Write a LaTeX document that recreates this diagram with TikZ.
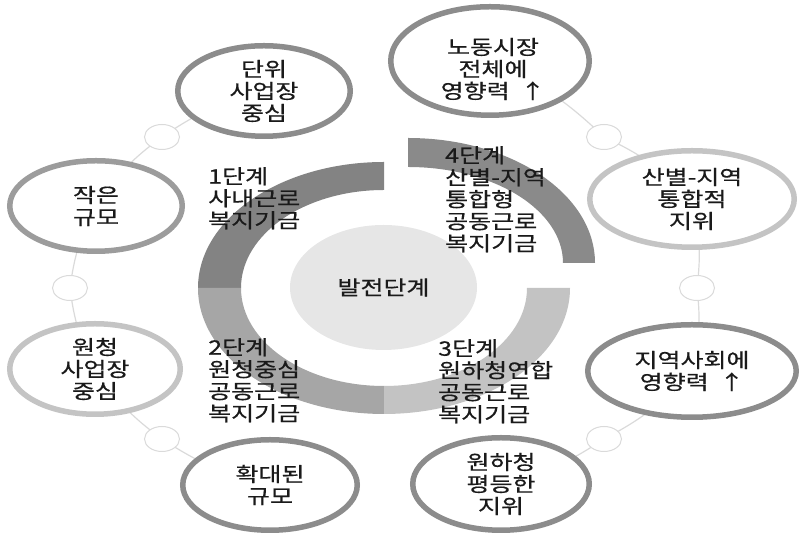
\documentclass[tikz,border=0pt]{standalone}
\usepackage{fontspec}
\setmainfont[FakeStretch=1.25,FakeBold=0.5]{Noto Sans CJK KR}
\usetikzlibrary{shapes.geometric,backgrounds}
\definecolor{seg1}{HTML}{838383}
\definecolor{seg2}{HTML}{A6A6A6}
\definecolor{seg3}{HTML}{C3C3C3}
\definecolor{seg4}{HTML}{8A8A8A}
\definecolor{cen}{HTML}{E6E6E6}
\definecolor{bdark}{HTML}{8C8C8C}
\definecolor{bmid}{HTML}{9C9C9C}
\definecolor{blight}{HTML}{C4C4C4}
\definecolor{linec}{HTML}{DADADA}
\definecolor{txt}{HTML}{1A1A1A}
\begin{document}
\begin{tikzpicture}[x=1pt,y=1pt,
  every node/.style={font=\fontsize{20}{22}\selectfont, text=txt},
  outer/.style={ellipse, draw, fill=white, line width=5.5pt, inner sep=-6pt, align=center},
  dot/.style={ellipse, draw=linec, fill=white, line width=1pt, minimum width=35pt, minimum height=25pt, inner sep=0pt},
  conn/.style={draw=linec, line width=1.2pt},
  stage/.style={anchor=north west, align=left, inner sep=0pt}]
\useasboundingbox (0,0) rectangle (801,534);

% ring segments
\fill[seg1] (384,372) arc[start angle=90,end angle=180,x radius=186,y radius=126] -- (241,246) arc[start angle=180,end angle=90,x radius=143,y radius=98] -- cycle;
\fill[seg2] (198,246) arc[start angle=180,end angle=270,x radius=186,y radius=126] -- (384,148) arc[start angle=270,end angle=180,x radius=143,y radius=98] -- cycle;
\fill[seg3] (384,120) arc[start angle=270,end angle=360,x radius=186,y radius=126] -- (527,246) arc[start angle=360,end angle=270,x radius=143,y radius=98] -- cycle;
\fill[seg4] (595,271) arc[start angle=0,end angle=90,x radius=187,y radius=125] -- (408,367) arc[start angle=90,end angle=0,x radius=155,y radius=96] -- cycle;

% centre
\node[ellipse, fill=cen, minimum width=187pt, minimum height=125pt, inner sep=0pt] (c) at (383.5,246.5) {발전단계};

% stage texts
\node[stage] (t1) at (208,367) {1단계\\사내근로\\복지기금};
\node[stage] (t4) at (445,388) {4단계\\산별-지역\\통합형\\공동근로\\복지기금};
\node[stage] (t2) at (208,196) {2단계\\원청중심\\공동근로\\복지기금};
\node[stage] (t3) at (438,195) {3단계\\원하청연합\\공동근로\\복지기금};

% outer nodes
\node[outer, draw=bdark, minimum width=172.5pt, minimum height=90.5pt] (n1) at (264,443) {단위\\사업장\\중심};
\node[outer, draw=bmid, minimum width=172.5pt, minimum height=90.5pt] (n2) at (96,328) {작은\\규모};
\node[outer, draw=blight, minimum width=170.5pt, minimum height=90.5pt] (n3) at (95,165) {원청\\사업장\\중심};
\node[outer, draw=bdark, minimum width=174.5pt, minimum height=90.5pt] (n4) at (270,49) {확대된\\규모};
\node[outer, draw=bdark, minimum width=198.5pt, minimum height=108.5pt] (n5) at (490,473) {};
\node[align=center] (n5t) at (493,465) {노동시장\\전체에\\영향력\hspace{5pt} ↑};
\node[outer, draw=blight, minimum width=204.5pt, minimum height=96.5pt] (n6) at (692,335) {산별-지역\\통합적\\지위};
\node[outer, draw=bdark, minimum width=208.5pt, minimum height=92.5pt] (n7) at (692,163) {지역사회에\\영향력\hspace{5pt} ↑};
\node[outer, draw=bdark, minimum width=176.5pt, minimum height=92.5pt] (n8) at (501,50) {원하청\\평등한\\지위};

% small connector circles
\node[dot] (s1) at (162,397) {};
\node[dot] (s2) at (70,246) {};
\node[dot] (s3) at (162,95) {};
\node[dot] (s4) at (604,397) {};
\node[dot] (s5) at (697,246) {};
\node[dot] (s6) at (604,95) {};

% connectors
\begin{pgfonlayer}{background}
\draw[conn] (n1.center) to[bend right=10] (s1.center) to[bend right=10] (n2.center) to[bend right=10] (s2.center) to[bend right=10] (n3.center) to[bend right=10] (s3.center) to[bend right=10] (n4.center);
\draw[conn] (n5.center) to[bend left=10] (s4.center) to[bend left=10] (n6.center) to[bend left=10] (s5.center) to[bend left=10] (n7.center) to[bend left=10] (s6.center) to[bend left=10] (n8.center);
\end{pgfonlayer}
\end{tikzpicture}
\end{document}
